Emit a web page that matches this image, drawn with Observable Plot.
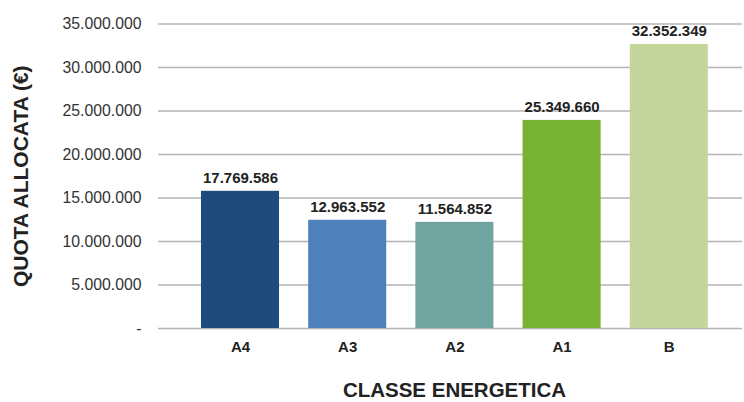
<!DOCTYPE html>
<html>
<head>
<meta charset="utf-8">
<script src="https://cdn.jsdelivr.net/npm/d3@7"></script>
<script src="https://cdn.jsdelivr.net/npm/@observablehq/plot@0.6"></script>
<style>
  html, body { margin: 0; padding: 0; background: #fff; }
  svg { display: block; }
</style>
</head>
<body>
<div id="chart"></div>
<script>
const categories = ["A4", "A3", "A2", "A1", "B"];
const barValues = [15770000, 12440000, 12200000, 23920000, 32650000];
const valueLabels = ["17.769.586", "12.963.552", "11.564.852", "25.349.660", "32.352.349"];
const barColors = ["#204a7c", "#4e80bb", "#6fa59e", "#77b232", "#c5d69c"];
const yTicks = [0, 5000000, 10000000, 15000000, 20000000, 25000000, 30000000, 35000000];
const yTitle = "QUOTA ALLOCATA (€)";
const xTitle = "CLASSE ENERGETICA";

const data = categories.map((c, i) => ({cat: c, value: barValues[i], label: valueLabels[i], color: barColors[i]}));
const itFmt = d3.formatLocale({decimal: ",", thousands: ".", grouping: [3], currency: ["", "€"]}).format(",d");
const fmt = d => d === 0 ? "-" : itFmt(d);

const font = "'Liberation Sans', Arial, sans-serif";

const chart = Plot.plot({
  width: 744,
  height: 402,
  marginLeft: 158,
  marginRight: 2,
  marginTop: 23.5,
  marginBottom: 74,
  style: {fontFamily: font, background: "#fff"},
  x: {domain: categories, paddingInner: 0.272, paddingOuter: 0.36, align: 0.557, round: false, label: null},
  y: {domain: [0, 35000000], label: null},
  color: {domain: categories, range: barColors},
  marks: [
    Plot.ruleY(yTicks, {stroke: "#b4b4b4", strokeWidth: 1.4}),
    Plot.barY(data, {x: "cat", y: "value", fill: "cat"}),
    Plot.text(data, {x: "cat", y: "value", text: "label", dy: -13, fontSize: 15, fontWeight: "bold", fill: "#222"}),
    Plot.axisY(yTicks, {tickSize: 0, tickPadding: 17, tickFormat: fmt, fontSize: 15.8, fill: "#333", label: null}),
    Plot.axisX({tickSize: 0, tickPadding: 13, fontSize: 15, fontWeight: "bold", fill: "#222", label: null}),
    Plot.text([yTitle], {frameAnchor: "left", textAnchor: "middle", dx: -137, rotate: -90, fontSize: 21, fontWeight: "bold", fill: "#222"}),
    Plot.text([xTitle], {frameAnchor: "bottom", dx: 4, dy: 68, fontSize: 20.5, fontWeight: "bold", fill: "#222"})
  ]
});
document.getElementById("chart").appendChild(chart);
</script>
</body>
</html>
